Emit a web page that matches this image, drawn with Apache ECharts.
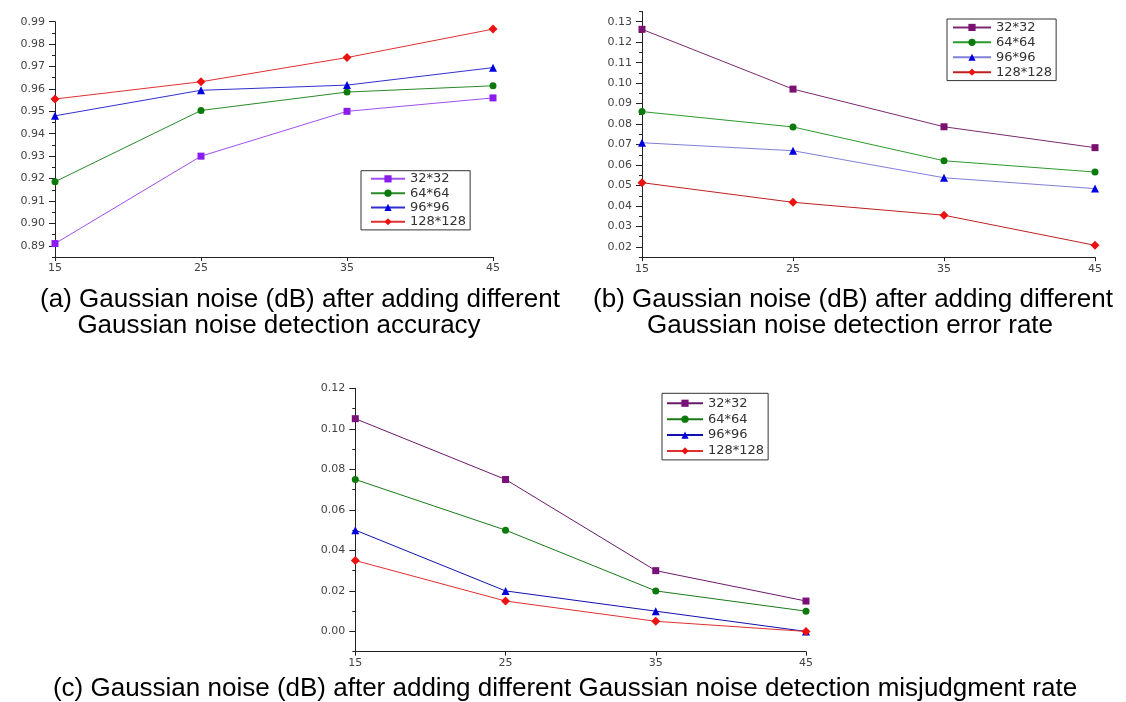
<!DOCTYPE html>
<html>
<head>
<meta charset="utf-8">
<script src="https://cdn.jsdelivr.net/npm/echarts@6/dist/echarts.min.js"></script>
<style>
  html, body { margin: 0; padding: 0; background: #fff; }
  #main { width: 1126px; height: 702px; }
</style>
</head>
<body>
<div id="main"></div>
<script>
// noise level (dB) on every x axis
const noiseDb = [15, 25, 35, 45]
const sizeNames = ['32*32', '64*64', '96*96', '128*128']

// (a) detection accuracy
const accuracy32 = [0.891, 0.930, 0.950, 0.956]
const accuracy64 = [0.9186, 0.9504, 0.9586, 0.9614]
const accuracy96 = [0.948, 0.9594, 0.9617, 0.9695]
const accuracy128 = [0.9555, 0.9632, 0.974, 0.9867]

// (b) detection error rate
const errorRate32 = [0.1263, 0.0971, 0.0787, 0.0685]
const errorRate64 = [0.0861, 0.0786, 0.0621, 0.0566]
const errorRate96 = [0.0709, 0.067, 0.0538, 0.0485]
const errorRate128 = [0.0514, 0.0418, 0.0355, 0.0208]

// (c) misjudgment rate
const misjudge32 = [0.105, 0.075, 0.03, 0.015]
const misjudge64 = [0.075, 0.05, 0.02, 0.01]
const misjudge96 = [0.05, 0.02, 0.01, 0.0]
const misjudge128 = [0.035, 0.015, 0.005, 0.0]

// labelled y ticks
const accuracyTicks = [0.89, 0.90, 0.91, 0.92, 0.93, 0.94, 0.95, 0.96, 0.97, 0.98, 0.99]
const errorRateTicks = [0.02, 0.03, 0.04, 0.05, 0.06, 0.07, 0.08, 0.09, 0.10, 0.11, 0.12, 0.13]
const misjudgeTicks = [0.00, 0.02, 0.04, 0.06, 0.08, 0.10, 0.12]

const captions = [
  '(a) Gaussian noise (dB) after adding different',
  'Gaussian noise detection accuracy',
  '(b) Gaussian noise (dB) after adding different',
  'Gaussian noise detection error rate',
  '(c) Gaussian noise (dB) after adding different Gaussian noise detection misjudgment rate'
]

const symbols = ['rect', 'circle', 'triangle', 'diamond']
const symbolSizes = [7, 7, 8, 9]
const axisColor = '#222'
const tickFont = 'DejaVu Sans'

const panels = [
  {
    key: 'a',
    grid: { left: 55, top: 21.7, width: 438, height: 235.3 },
    min: 0.885, max: 0.99, minor: 0.005, ticks: accuracyTicks,
    values: [accuracy32, accuracy64, accuracy96, accuracy128],
    colors: ['#8a1cf0', '#0a7a0a', '#0000e0', '#ee1111'],
    lines: ['#a050f0', '#2a8a2a', '#3030d0', '#e03030'],
    legend: { left: 361, top: 170.7, itemWidth: 34, lineHeight: 14.3, padding: [1, 4, 1, 9] }
  },
  {
    key: 'b',
    grid: { left: 642, top: 11.5, width: 453, height: 245.7 },
    min: 0.015, max: 0.135, minor: 0.005, ticks: errorRateTicks,
    values: [errorRate32, errorRate64, errorRate96, errorRate128],
    colors: ['#7a1070', '#0a7a0a', '#0000e0', '#ee1111'],
    lines: ['#7a2a70', '#2a9a2a', '#8080d8', '#c02020'],
    legend: { left: 947, top: 19, itemWidth: 38, lineHeight: 14.9, padding: [1, 4, 1, 5] }
  },
  {
    key: 'c',
    grid: { left: 355.3, top: 388.3, width: 450.7, height: 263.4 },
    min: -0.01, max: 0.12, minor: 0.01, ticks: misjudgeTicks,
    values: [misjudge32, misjudge64, misjudge96, misjudge128],
    colors: ['#7a107a', '#0a7a0a', '#0000e0', '#ee1111'],
    lines: ['#6a1a6a', '#1a7a1a', '#1010b0', '#e03030'],
    legend: { left: 662, top: 393.3, itemWidth: 36, lineHeight: 15.9, padding: [2, 4, 1, 4] }
  }
]

const option = {
  backgroundColor: '#fff',
  animation: false,
  grid: [],
  xAxis: [],
  yAxis: [],
  legend: [],
  series: [],
  graphic: []
}

panels.forEach((p, i) => {
  option.grid.push(p.grid)
  option.xAxis.push({
    type: 'value',
    gridIndex: i,
    min: 15,
    max: 45,
    interval: 10,
    axisLine: { onZero: false, lineStyle: { color: axisColor, width: 1 } },
    axisTick: { length: 4, lineStyle: { color: axisColor } },
    axisLabel: { margin: 6, fontSize: 11, fontFamily: tickFont, color: '#444' },
    splitLine: { show: false }
  })
  // minor ticks + the axis line
  option.yAxis.push({
    type: 'value',
    gridIndex: i,
    position: 'left',
    min: p.min,
    max: p.max,
    interval: p.minor,
    axisLine: { show: true, onZero: false, lineStyle: { color: axisColor, width: 1 } },
    axisTick: { length: 3, lineStyle: { color: axisColor } },
    axisLabel: { show: false },
    splitLine: { show: false }
  })
  // major ticks with labels
  option.yAxis.push({
    type: 'value',
    gridIndex: i,
    position: 'left',
    min: p.min,
    max: p.max,
    axisLine: { show: false, onZero: false },
    axisTick: { show: true, length: 6, customValues: p.ticks, lineStyle: { color: axisColor } },
    axisLabel: {
      customValues: p.ticks,
      margin: 10,
      fontSize: 11,
      fontFamily: tickFont,
      color: '#444',
      formatter: v => v.toFixed(2)
    },
    splitLine: { show: false }
  })
  const names = sizeNames.map(n => n + '|' + p.key)
  option.legend.push({
    data: names,
    orient: 'vertical',
    left: p.legend.left,
    top: p.legend.top,
    itemWidth: p.legend.itemWidth,
    itemHeight: 9,
    itemGap: 0,
    padding: p.legend.padding,
    borderColor: '#333',
    borderWidth: 1,
    selectedMode: false,
    formatter: n => n.split('|')[0],
    textStyle: { fontSize: 13, fontFamily: tickFont, color: '#333', lineHeight: p.legend.lineHeight }
  })
  p.values.forEach((vals, s) => {
    option.series.push({
      name: names[s],
      type: 'line',
      xAxisIndex: i,
      yAxisIndex: i * 2,
      symbol: symbols[s],
      symbolSize: symbolSizes[s],
      showSymbol: true,
      itemStyle: { color: p.colors[s] },
      lineStyle: { color: p.lines[s], width: 1 },
      data: vals.map((v, k) => [noiseDb[k], v])
    })
  })
})

const captionPos = [[300, 300], [279, 326], [853, 300], [850, 326], [565, 689]]
captions.forEach((t, i) => {
  option.graphic.push({
    type: 'text',
    x: captionPos[i][0],
    y: captionPos[i][1],
    style: {
      text: t,
      fontSize: 26,
      fontFamily: 'Liberation Sans',
      fill: '#000',
      align: 'center',
      verticalAlign: 'middle'
    }
  })
})

const chart = echarts.init(document.getElementById('main'))
chart.setOption(option)
</script>
</body>
</html>
